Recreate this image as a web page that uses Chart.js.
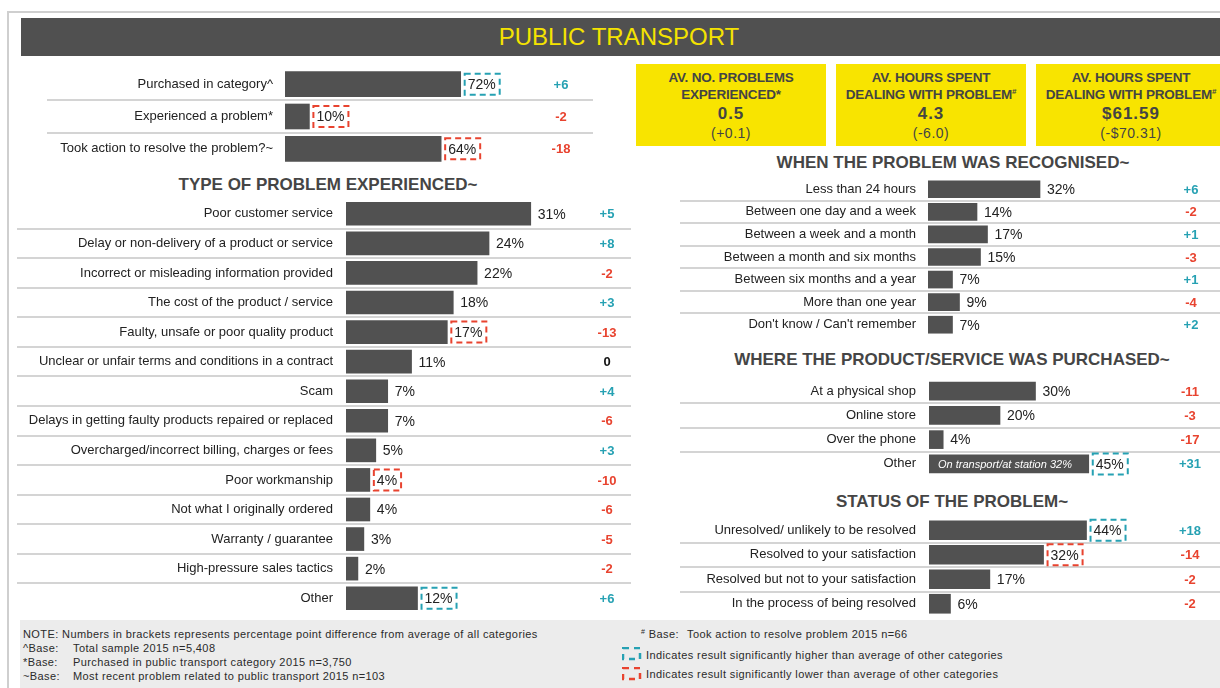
<!DOCTYPE html>
<html>
<head>
<meta charset="utf-8">
<script src="https://cdn.jsdelivr.net/npm/chart.js@4/dist/chart.umd.min.js"></script>
<style>
  body { margin: 0; width: 1220px; height: 688px; position: relative; overflow: hidden; background: #fff;
         font-family: "Liberation Sans", Arial, sans-serif; color: #222; }
  canvas { position: absolute; }
  .frame-top { position: absolute; left: 8px; top: 11px; width: 1212px; height: 2px; background: #cfcfcf; }
  .frame-left { position: absolute; left: 7px; top: 11px; width: 2px; height: 677px; background: #cfcfcf; }
  .header { position: absolute; left: 21px; top: 18px; width: 1199px; height: 38px; background: #505050; }
  .header span { position: absolute; left: 598px; top: 19px; transform: translate(-50%, -50%);
                 color: #f5e300; font-size: 24px; white-space: nowrap; }
  .ttl { position: absolute; transform: translate(-50%, -50%); font-weight: bold; font-size: 17px;
         color: #454545; white-space: nowrap; }
  .stat { position: absolute; top: 64px; width: 190px; height: 82px; background: #f8e400; color: #444; }
  .stat div { position: absolute; left: 0; width: 100%; text-align: center; transform: translateY(-50%);
              white-space: nowrap; }
  .stat .h { font-weight: bold; font-size: 13.5px; letter-spacing: -0.2px; }
  .stat .v { font-weight: bold; font-size: 17px; letter-spacing: 1px; }
  .stat .d { font-size: 14px; letter-spacing: 0.5px; }
  .stat sup { font-size: 8px; vertical-align: 5px; }
  .foot { position: absolute; left: 20px; top: 620px; width: 1200px; height: 68px; background: #ececec;
          font-size: 11px; letter-spacing: 0.4px; color: #2a2a2a; }
  .foot div { position: absolute; white-space: nowrap; transform: translateY(-50%); }
  .foot svg { position: absolute; }
</style>
</head>
<body>
<div class="frame-top"></div>
<div class="frame-left"></div>
<div class="header"><span>PUBLIC TRANSPORT</span></div>

<div class="stat" style="left:636px">
  <div class="h" style="top:13px">AV. NO. PROBLEMS</div>
  <div class="h" style="top:30px">EXPERIENCED*</div>
  <div class="v" style="top:50px">0.5</div>
  <div class="d" style="top:69px">(+0.1)</div>
</div>
<div class="stat" style="left:836px">
  <div class="h" style="top:13px">AV. HOURS SPENT</div>
  <div class="h" style="top:30px">DEALING WITH PROBLEM<sup>#</sup></div>
  <div class="v" style="top:50px">4.3</div>
  <div class="d" style="top:69px">(-6.0)</div>
</div>
<div class="stat" style="left:1036px">
  <div class="h" style="top:13px">AV. HOURS SPENT</div>
  <div class="h" style="top:30px">DEALING WITH PROBLEM<sup>#</sup></div>
  <div class="v" style="top:50px">$61.59</div>
  <div class="d" style="top:69px">(-$70.31)</div>
</div>

<div class="ttl" style="left:328px;top:185px">TYPE OF PROBLEM EXPERIENCED~</div>
<div class="ttl" style="left:953px;top:163px">WHEN THE PROBLEM WAS RECOGNISED~</div>
<div class="ttl" style="left:952px;top:360px">WHERE THE PRODUCT/SERVICE WAS PURCHASED~</div>
<div class="ttl" style="left:952px;top:502px">STATUS OF THE PROBLEM~</div>

<canvas id="cTop" width="546" height="97" style="left:47px;top:68px"></canvas>
<canvas id="cType" width="614" height="414" style="left:17px;top:199px"></canvas>
<canvas id="cWhen" width="540" height="158" style="left:680px;top:178px"></canvas>
<canvas id="cWhere" width="540" height="97" style="left:680px;top:379px"></canvas>
<canvas id="cStatus" width="540" height="98" style="left:680px;top:518px"></canvas>

<div class="foot">
  <div style="left:3px;top:14px">NOTE: Numbers in brackets represents percentage point difference from average of all categories</div>
  <div style="left:3px;top:28px">^Base:</div><div style="left:53px;top:28px">Total sample 2015 n=5,408</div>
  <div style="left:3px;top:42px">*Base:</div><div style="left:53px;top:42px">Purchased in public transport category 2015 n=3,750</div>
  <div style="left:3px;top:56px">~Base:</div><div style="left:53px;top:56px">Most recent problem related to public transport 2015 n=103</div>
  <div style="left:621px;top:14px"><sup style="font-size:7px">#</sup> Base:</div>
  <div style="left:667px;top:14px">Took action to resolve problem 2015 n=66</div>
  <svg width="20" height="14" style="left:602px;top:27px"><rect x="1" y="1" width="17" height="11" fill="none"
       stroke="#26a1b3" stroke-width="2.5" stroke-dasharray="6 5"/></svg>
  <div style="left:626px;top:35px">Indicates result significantly higher than average of other categories</div>
  <svg width="20" height="14" style="left:602px;top:47px"><rect x="1" y="1" width="17" height="11" fill="none"
       stroke="#e8432f" stroke-width="2.5" stroke-dasharray="6 5"/></svg>
  <div style="left:626px;top:54px">Indicates result significantly lower than average of other categories</div>
</div>

<script>
// headline figures
var topLabels = ["Purchased in category^", "Experienced a problem*", "Took action to resolve the problem?~"];
var topValues = [72, 10, 64];
var topDiffs = [6, -2, -18];
var topSig = ["high", "low", "low"];

// type of problem experienced
var typeLabels = [
    "Poor customer service",
    "Delay or non-delivery of a product or service",
    "Incorrect or misleading information provided",
    "The cost of the product / service",
    "Faulty, unsafe or poor quality product",
    "Unclear or unfair terms and conditions in a contract",
    "Scam",
    "Delays in getting faulty products repaired or replaced",
    "Overcharged/incorrect billing, charges or fees",
    "Poor workmanship",
    "Not what I originally ordered",
    "Warranty / guarantee",
    "High-pressure sales tactics",
    "Other"
];
var typeValues = [31, 24, 22, 18, 17, 11, 7, 7, 5, 4, 4, 3, 2, 12];
var typeDiffs = [5, 8, -2, 3, -13, 0, 4, -6, 3, -10, -6, -5, -2, 6];
var typeSig = ["", "", "", "", "low", "", "", "", "", "low", "", "", "", "high"];

// when the problem was recognised
var whenLabels = [
    "Less than 24 hours",
    "Between one day and a week",
    "Between a week and a month",
    "Between a month and six months",
    "Between six months and a year",
    "More than one year",
    "Don't know / Can't remember"
];
var whenValues = [32, 14, 17, 15, 7, 9, 7];
var whenDiffs = [6, -2, 1, -3, 1, -4, 2];
var whenSig = ["", "", "", "", "", "", ""];

// where the product / service was purchased
var whereLabels = ["At a physical shop", "Online store", "Over the phone", "Other"];
var whereValues = [30, 20, 4, 45];
var whereDiffs = [-11, -3, -17, 31];
var whereSig = ["", "", "", "high"];
var whereNotes = ["", "", "", "On transport/at station 32%"];

// status of the problem
var statusLabels = [
    "Unresolved/ unlikely to be resolved",
    "Resolved to your satisfaction",
    "Resolved but not to your satisfaction",
    "In the process of being resolved"
];
var statusValues = [44, 32, 17, 6];
var statusDiffs = [18, -14, -2, -2];
var statusSig = ["high", "low", "", ""];

var FONT = "'Liberation Sans', Arial, sans-serif";
var BAR = "#515151";
var TEAL = "#26a1b3";
var RED = "#e8432f";

function dashedBox(ctx, x, y, w, h, color) {
    ctx.save();
    ctx.strokeStyle = color;
    ctx.lineWidth = 2;
    ctx.setLineDash([6, 4]);
    ctx.strokeRect(x, y, w, h);
    ctx.restore();
}

// row separators, value labels, significance boxes and the difference column
var rowExtras = {
    id: "rowExtras",
    afterDatasetsDraw: function (chart, args, opts) {
        var ctx = chart.ctx;
        var ds = chart.data.datasets[0];
        var meta = chart.getDatasetMeta(0);
        var area = chart.chartArea;
        var pitch = (area.bottom - area.top) / meta.data.length;
        ctx.save();

        ctx.strokeStyle = "#d4d4d4";
        ctx.lineWidth = 2;
        for (var k = 1; k < meta.data.length; k++) {
            var ly = Math.round(area.top + k * pitch);
            ctx.beginPath();
            ctx.moveTo(0, ly);
            ctx.lineTo(chart.width, ly);
            ctx.stroke();
        }

        ctx.textBaseline = "middle";
        meta.data.forEach(function (bar, i) {
            var text = ds.data[i] + "%";
            ctx.font = "14px " + FONT;
            ctx.textAlign = "left";
            ctx.fillStyle = "#222";
            var tx = bar.x + 7;
            ctx.fillText(text, tx, bar.y + 1);
            if (ds.sig[i]) {
                var w = ctx.measureText(text).width;
                dashedBox(ctx, bar.x + 4, bar.y - 10.5, w + 7, 21, ds.sig[i] === "high" ? TEAL : RED);
            }

            if (ds.notes && ds.notes[i]) {
                ctx.font = "italic 11px " + FONT;
                ctx.fillStyle = "#fff";
                ctx.fillText(ds.notes[i], area.left + 9, bar.y + 1);
            }

            var d = ds.diffs[i];
            ctx.font = "bold 13px " + FONT;
            ctx.textAlign = "center";
            ctx.fillStyle = d > 0 ? TEAL : (d < 0 ? RED : "#111");
            ctx.fillText((d > 0 ? "+" : "") + d, opts.diffX, bar.y + 1);
        });
        ctx.restore();
    }
};

function buildChart(id, labels, values, diffs, sig, notes, layout) {
    var canvas = document.getElementById(id);
    var plotWidth = canvas.width - layout.axisWidth;
    return new Chart(canvas, {
        type: "bar",
        data: {
            labels: labels,
            datasets: [{
                data: values,
                diffs: diffs,
                sig: sig,
                notes: notes,
                backgroundColor: BAR,
                borderWidth: 0,
                barThickness: layout.barThickness
            }]
        },
        options: {
            indexAxis: "y",
            responsive: false,
            animation: false,
            layout: { padding: 0, autoPadding: false },
            scales: {
                x: { display: false, min: 0, max: plotWidth / layout.pxPer },
                y: {
                    // fixed label column, and rows filling the full canvas height
                    afterFit: function (scale) {
                        scale.width = layout.axisWidth;
                        scale.paddingTop = 0;
                        scale.paddingBottom = 0;
                    },
                    grid: { display: false, drawTicks: false },
                    border: { display: false },
                    ticks: {
                        autoSkip: false,
                        padding: layout.gap,
                        color: "#222",
                        font: { family: FONT, size: 13 }
                    }
                }
            },
            plugins: {
                legend: { display: false },
                tooltip: { enabled: false },
                rowExtras: { diffX: layout.diffX }
            }
        },
        plugins: [rowExtras]
    });
}

buildChart("cTop", topLabels, topValues, topDiffs, topSig, null,
    { axisWidth: 238, gap: 12, barThickness: 25, pxPer: 2.44, diffX: 514 });
buildChart("cType", typeLabels, typeValues, typeDiffs, typeSig, null,
    { axisWidth: 329, gap: 13, barThickness: 23, pxPer: 5.96, diffX: 590 });
buildChart("cWhen", whenLabels, whenValues, whenDiffs, whenSig, null,
    { axisWidth: 248, gap: 12, barThickness: 17, pxPer: 3.5, diffX: 511 });
buildChart("cWhere", whereLabels, whereValues, whereDiffs, whereSig, whereNotes,
    { axisWidth: 249, gap: 13, barThickness: 18, pxPer: 3.55, diffX: 510 });
buildChart("cStatus", statusLabels, statusValues, statusDiffs, statusSig, null,
    { axisWidth: 249, gap: 13, barThickness: 19, pxPer: 3.58, diffX: 510 });
</script>
</body>
</html>
